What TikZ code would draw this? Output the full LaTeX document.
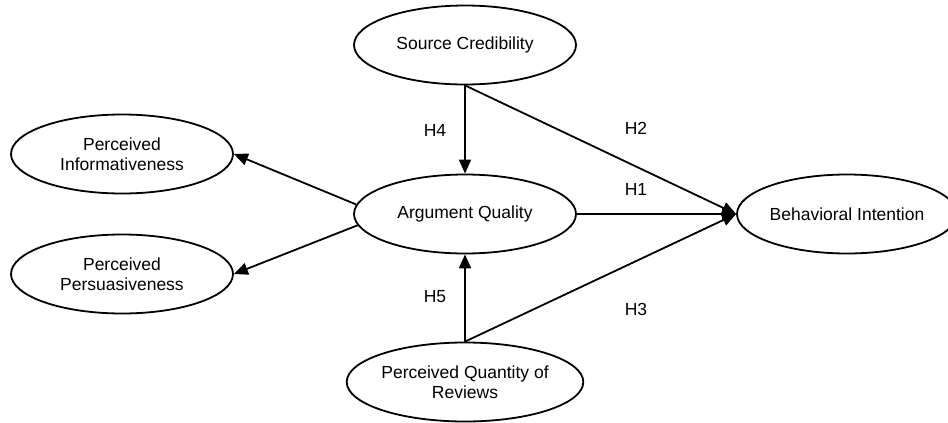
\documentclass[tikz,border=0pt]{standalone}
\usepackage{fontspec}
\setmainfont{Liberation Sans}
\usetikzlibrary{shapes.geometric,arrows.meta}
\begin{document}
\begin{tikzpicture}[x=1pt,y=-1pt,
  construct/.style={ellipse,draw,line width=1.8pt,fill=white,minimum width=222pt,minimum height=79pt,inner sep=0pt,align=center,font=\fontsize{17.5}{20.5}\selectfont},
  link/.style={line width=1.8pt,-{Triangle[length=14pt,width=12pt]}},
  hyp/.style={font=\fontsize{17.5}{20.5}\selectfont}]
  \useasboundingbox (0,0) rectangle (948,423);
  \fill[white] (0,0) rectangle (948,423);

  % constructs
  \node[construct] (sc)  at (465,45)  {Source Credibility};
  \node[construct] (aq)  at (465,214) {Argument Quality};
  \node[construct] (pqr) at (465,382) {Perceived Quantity of\\Reviews};
  \node[construct] (pi)  at (122,154) {Perceived\\Informativeness};
  \node[construct] (pp)  at (122,274) {Perceived\\Persuasiveness};
  \node[construct,minimum width=220pt] (bi) at (847,214) {Behavioral Intention};

  % hypothesised paths
  \draw[link] (sc.south) -- (bi.west);
  \draw[link] (aq.east) -- (bi.west);
  \draw[link] (pqr.north) -- (bi.west);
  \draw[link] (sc.south) -- (aq.north);
  \draw[link] (pqr.north) -- (aq.south);
  \draw[link] (aq.175) -- (pi.east);
  \draw[link] (aq.186) -- (pp.east);

  % path labels
  \node[hyp] (h4) at (435,130) {H4};
  \node[hyp] (h5) at (435,297) {H5};
  \node[hyp] (h2) at (636,128) {H2};
  \node[hyp] (h1) at (636,189) {H1};
  \node[hyp] (h3) at (636,309) {H3};
\end{tikzpicture}
\end{document}
